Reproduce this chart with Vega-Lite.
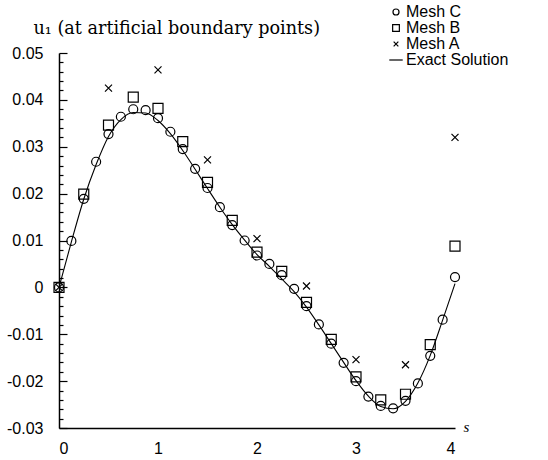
{
  "$schema": "https://vega.github.io/schema/vega-lite/v6.json",
  "width": 396,
  "height": 375,
  "autosize": {"type": "none"},
  "padding": {"left": 59, "top": 53, "right": 93, "bottom": 32},
  "background": "white",
  "config": {
    "view": {"stroke": null},
    "axis": {"labelColor": "black", "domainColor": "black", "tickColor": "black", "grid": false, "labelFont": "Liberation Sans", "labelFontSize": 16, "titleColor": "black"},
    "legend": {"labelFont": "Liberation Sans", "labelFontSize": 16, "labelColor": "black"}
  },
  "data": {
    "values": [
      {"s": 0, "u": 0, "series": "Mesh C"},
      {"s": 0.125, "u": 0.0099, "series": "Mesh C"},
      {"s": 0.25, "u": 0.0189, "series": "Mesh C"},
      {"s": 0.375, "u": 0.0268, "series": "Mesh C"},
      {"s": 0.5, "u": 0.0327, "series": "Mesh C"},
      {"s": 0.625, "u": 0.0364, "series": "Mesh C"},
      {"s": 0.75, "u": 0.038, "series": "Mesh C"},
      {"s": 0.875, "u": 0.0378, "series": "Mesh C"},
      {"s": 1.0, "u": 0.0361, "series": "Mesh C"},
      {"s": 1.125, "u": 0.0332, "series": "Mesh C"},
      {"s": 1.25, "u": 0.0295, "series": "Mesh C"},
      {"s": 1.375, "u": 0.0253, "series": "Mesh C"},
      {"s": 1.5, "u": 0.0212, "series": "Mesh C"},
      {"s": 1.625, "u": 0.0171, "series": "Mesh C"},
      {"s": 1.75, "u": 0.0133, "series": "Mesh C"},
      {"s": 1.875, "u": 0.0100, "series": "Mesh C"},
      {"s": 2.0, "u": 0.0068, "series": "Mesh C"},
      {"s": 2.125, "u": 0.0050, "series": "Mesh C"},
      {"s": 2.25, "u": 0.0026, "series": "Mesh C"},
      {"s": 2.375, "u": -0.0003, "series": "Mesh C"},
      {"s": 2.5, "u": -0.0040, "series": "Mesh C"},
      {"s": 2.625, "u": -0.0079, "series": "Mesh C"},
      {"s": 2.75, "u": -0.0120, "series": "Mesh C"},
      {"s": 2.875, "u": -0.0161, "series": "Mesh C"},
      {"s": 3.0, "u": -0.0200, "series": "Mesh C"},
      {"s": 3.125, "u": -0.0233, "series": "Mesh C"},
      {"s": 3.25, "u": -0.0253, "series": "Mesh C"},
      {"s": 3.375, "u": -0.0258, "series": "Mesh C"},
      {"s": 3.5, "u": -0.0242, "series": "Mesh C"},
      {"s": 3.625, "u": -0.0205, "series": "Mesh C"},
      {"s": 3.75, "u": -0.0146, "series": "Mesh C"},
      {"s": 3.875, "u": -0.0069, "series": "Mesh C"},
      {"s": 4.0, "u": 0.0022, "series": "Mesh C"},
      {"s": 0, "u": 0, "series": "Mesh B"},
      {"s": 0.25, "u": 0.0199, "series": "Mesh B"},
      {"s": 0.5, "u": 0.0346, "series": "Mesh B"},
      {"s": 0.75, "u": 0.0406, "series": "Mesh B"},
      {"s": 1.0, "u": 0.0382, "series": "Mesh B"},
      {"s": 1.25, "u": 0.0311, "series": "Mesh B"},
      {"s": 1.5, "u": 0.0224, "series": "Mesh B"},
      {"s": 1.75, "u": 0.0143, "series": "Mesh B"},
      {"s": 2.0, "u": 0.0075, "series": "Mesh B"},
      {"s": 2.25, "u": 0.0034, "series": "Mesh B"},
      {"s": 2.5, "u": -0.0032, "series": "Mesh B"},
      {"s": 2.75, "u": -0.0111, "series": "Mesh B"},
      {"s": 3.0, "u": -0.0191, "series": "Mesh B"},
      {"s": 3.25, "u": -0.0240, "series": "Mesh B"},
      {"s": 3.5, "u": -0.0228, "series": "Mesh B"},
      {"s": 3.75, "u": -0.0122, "series": "Mesh B"},
      {"s": 4.0, "u": 0.0088, "series": "Mesh B"},
      {"s": 0, "u": 0, "series": "Mesh A"},
      {"s": 0.5, "u": 0.0425, "series": "Mesh A"},
      {"s": 1.0, "u": 0.0464, "series": "Mesh A"},
      {"s": 1.5, "u": 0.0272, "series": "Mesh A"},
      {"s": 2.0, "u": 0.0104, "series": "Mesh A"},
      {"s": 2.5, "u": 0.0003, "series": "Mesh A"},
      {"s": 3.0, "u": -0.0154, "series": "Mesh A"},
      {"s": 3.5, "u": -0.0165, "series": "Mesh A"},
      {"s": 4.0, "u": 0.0320, "series": "Mesh A"},
      {"s": 0, "u": 0, "series": "Exact Solution"},
      {"s": 0.125, "u": 0.0097, "series": "Exact Solution"},
      {"s": 0.25, "u": 0.0188, "series": "Exact Solution"},
      {"s": 0.375, "u": 0.0262, "series": "Exact Solution"},
      {"s": 0.5, "u": 0.0322, "series": "Exact Solution"},
      {"s": 0.625, "u": 0.0358, "series": "Exact Solution"},
      {"s": 0.75, "u": 0.0373, "series": "Exact Solution"},
      {"s": 0.875, "u": 0.0372, "series": "Exact Solution"},
      {"s": 1.0, "u": 0.0356, "series": "Exact Solution"},
      {"s": 1.125, "u": 0.0328, "series": "Exact Solution"},
      {"s": 1.25, "u": 0.0292, "series": "Exact Solution"},
      {"s": 1.375, "u": 0.0252, "series": "Exact Solution"},
      {"s": 1.5, "u": 0.0211, "series": "Exact Solution"},
      {"s": 1.625, "u": 0.0171, "series": "Exact Solution"},
      {"s": 1.75, "u": 0.0134, "series": "Exact Solution"},
      {"s": 1.875, "u": 0.0101, "series": "Exact Solution"},
      {"s": 2.0, "u": 0.0070, "series": "Exact Solution"},
      {"s": 2.125, "u": 0.0045, "series": "Exact Solution"},
      {"s": 2.25, "u": 0.0018, "series": "Exact Solution"},
      {"s": 2.375, "u": -0.0009, "series": "Exact Solution"},
      {"s": 2.5, "u": -0.0042, "series": "Exact Solution"},
      {"s": 2.625, "u": -0.0080, "series": "Exact Solution"},
      {"s": 2.75, "u": -0.0120, "series": "Exact Solution"},
      {"s": 2.875, "u": -0.0160, "series": "Exact Solution"},
      {"s": 3.0, "u": -0.0199, "series": "Exact Solution"},
      {"s": 3.125, "u": -0.0232, "series": "Exact Solution"},
      {"s": 3.25, "u": -0.0254, "series": "Exact Solution"},
      {"s": 3.375, "u": -0.0259, "series": "Exact Solution"},
      {"s": 3.5, "u": -0.0243, "series": "Exact Solution"},
      {"s": 3.625, "u": -0.0204, "series": "Exact Solution"},
      {"s": 3.75, "u": -0.0145, "series": "Exact Solution"},
      {"s": 3.875, "u": -0.0070, "series": "Exact Solution"},
      {"s": 4.0, "u": 0.0008, "series": "Exact Solution"}
    ]
  },
  "encoding": {
    "x": {
      "field": "s", "type": "quantitative",
      "scale": {"domain": [0, 4], "nice": false},
      "axis": {
        "values": [0, 1, 2, 3, 4], "format": "d", "ticks": false,
        "domainWidth": 1.6, "labelPadding": 12,
        "title": "s", "titleFont": "Liberation Serif", "titleFontStyle": "italic", "titleFontWeight": "normal", "titleFontSize": 15,
        "titleAnchor": "start", "titleAlign": "left", "titleBaseline": "alphabetic", "titleX": 404, "titleY": 3
      }
    },
    "y": {
      "field": "u", "type": "quantitative",
      "scale": {"domain": [-0.03, 0.05], "nice": false, "zero": false},
      "axis": {
        "values": [-0.03, -0.028, -0.026, -0.024, -0.022, -0.02, -0.018, -0.016, -0.014, -0.012, -0.01, -0.008, -0.006, -0.004, -0.002, 0, 0.002, 0.004, 0.006, 0.008, 0.01, 0.012, 0.014, 0.016, 0.018, 0.02, 0.022, 0.024, 0.026, 0.028, 0.03, 0.032, 0.034, 0.036, 0.038, 0.04, 0.042, 0.044, 0.046, 0.048, 0.05],
        "labelExpr": "abs(datum.value*100 - round(datum.value*100)) < 0.01 ? replace(format(datum.value, '.2~f'), '\u2212', '-') : ''",
        "tickSize": {"condition": {"test": "abs(datum.value*100 - round(datum.value*100)) < 0.01", "value": -8}, "value": -4},
        "tickWidth": 1.2,
        "labelPadding": 24, "domainWidth": 1.5,
        "title": "u\u2081 (at artificial boundary points)", "titleFont": "DejaVu Serif", "titleFontWeight": "normal", "titleFontSize": 17.6,
        "titleAngle": 0, "titleAlign": "left", "titleBaseline": "alphabetic", "titleX": -26, "titleY": -20
      }
    }
  },
  "layer": [
    {
      "transform": [{"filter": "datum.series === 'Exact Solution'"}],
      "mark": {"type": "line", "color": "black", "strokeWidth": 1.1, "interpolate": "monotone"},
      "encoding": {"order": {"field": "s"}}
    },
    {
      "transform": [{"filter": "datum.series !== 'Exact Solution'"}],
      "mark": {"type": "point", "filled": false, "color": "black", "strokeWidth": 1.2, "opacity": 1, "size": 100},
      "encoding": {
        "shape": {
          "field": "series", "type": "nominal",
          "scale": {"domain": ["Mesh C", "Mesh B", "Mesh A", "Exact Solution"], "range": ["M-0.9,0A0.9,0.9 0 1,0 0.9,0A0.9,0.9 0 1,0 -0.9,0Z", "M-1,-1H1V1H-1Z", "M-0.7,-0.7L0.7,0.7M-0.7,0.7L0.7,-0.7", "M-2,0L2,0"]},
          "legend": {
            "title": null, "orient": "none", "legendX": 329, "legendY": -49, "padding": 0,
            "symbolSize": 45, "symbolStrokeColor": "black", "symbolStrokeWidth": 1.2, "symbolFillColor": "transparent",
            "labelOffset": 2, "rowPadding": 0
          }
        }
      }
    }
  ]
}
